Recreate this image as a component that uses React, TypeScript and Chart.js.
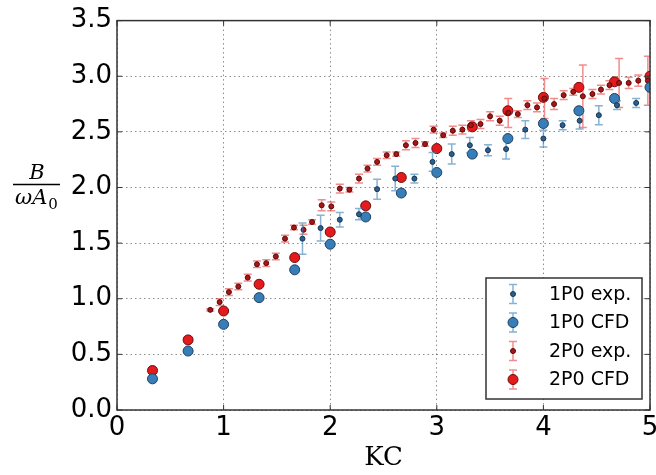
import React, { useEffect, useRef } from "react";
import { Chart, registerables } from "chart.js";

Chart.register(...registerables);

// ---- data ----
const cfdKC = [0.333, 0.667, 1.0, 1.333, 1.667, 2.0, 2.333, 2.667, 3.0, 3.333, 3.667, 4.0, 4.333, 4.667, 5.0];
const cfd1P0 = [0.28, 0.53, 0.77, 1.01, 1.26, 1.49, 1.735, 1.95, 2.135, 2.30, 2.44, 2.575, 2.69, 2.80, 2.90];
const cfd2P0 = [0.355, 0.63, 0.89, 1.13, 1.37, 1.60, 1.835, 2.09, 2.35, 2.545, 2.69, 2.81, 2.90, 2.95, 3.0];

const exp1KC = [1.74, 1.91, 2.09, 2.27, 2.44, 2.61, 2.79, 2.96, 3.14, 3.31, 3.48, 3.65, 3.83, 4.0, 4.18, 4.34, 4.52, 4.69, 4.87];
const exp1Val = [1.54, 1.635, 1.71, 1.76, 1.985, 2.08, 2.08, 2.23, 2.30, 2.38, 2.335, 2.345, 2.52, 2.44, 2.56, 2.60, 2.65, 2.74, 2.76];
const exp1Err = [0.14, 0.115, 0.065, 0.05, 0.09, 0.11, 0.04, 0.085, 0.09, 0.07, 0.05, 0.09, 0.08, 0.075, 0.04, 0.075, 0.085, 0.04, 0.04];

const exp2KC = [0.875, 0.963, 1.05, 1.138, 1.226, 1.313, 1.40, 1.49, 1.576, 1.66, 1.75, 1.83, 1.92, 2.01, 2.09, 2.18, 2.27, 2.35, 2.44, 2.53, 2.62, 2.71, 2.80, 2.89, 2.97, 3.06, 3.15, 3.24, 3.32, 3.41, 3.50, 3.59, 3.67, 3.76, 3.85, 3.94, 4.01, 4.10, 4.19, 4.28, 4.37, 4.46, 4.54, 4.62, 4.71, 4.80, 4.89, 4.98];
const exp2Val = [0.90, 0.97, 1.06, 1.11, 1.19, 1.31, 1.32, 1.38, 1.54, 1.64, 1.62, 1.69, 1.84, 1.83, 1.99, 1.98, 2.08, 2.17, 2.23, 2.29, 2.30, 2.38, 2.40, 2.39, 2.52, 2.47, 2.51, 2.52, 2.56, 2.57, 2.64, 2.60, 2.67, 2.66, 2.74, 2.72, 2.80, 2.75, 2.83, 2.86, 2.82, 2.84, 2.88, 2.92, 2.94, 2.94, 2.96, 2.96];
const exp2Err = [0.01, 0.03, 0.03, 0.03, 0.03, 0.03, 0.03, 0.03, 0.03, 0.02, 0.04, 0.02, 0.05, 0.04, 0.04, 0.02, 0.04, 0.03, 0.03, 0.03, 0.02, 0.04, 0.04, 0.02, 0.03, 0.02, 0.04, 0.04, 0.04, 0.04, 0.04, 0.04, 0.13, 0.03, 0.04, 0.04, 0.18, 0.05, 0.04, 0.03, 0.28, 0.04, 0.04, 0.04, 0.22, 0.05, 0.05, 0.22];

const xTicks = [0, 1, 2, 3, 4, 5];
const yTickStep = 0.5;
const legendLabels = ["1P0 exp.", "1P0 CFD", "2P0 exp.", "2P0 CFD"];

const BLUE = "#377eb8";
const RED = "#e41a1c";
const BLUE_BAR = "rgba(55,126,184,0.6)";
const RED_BAR = "rgba(228,26,28,0.5)";

const toPts = (xs: number[], ys: number[]) => xs.map((x, i) => ({ x, y: ys[i] }));

const errorBarPlugin = {
  id: "errorBars",
  beforeDatasetDraw(chart: any, args: any) {
    const ds = chart.data.datasets[args.index];
    if (!ds.errors) return;
    const ctx = chart.ctx;
    const ys = chart.scales.y;
    const ca = chart.chartArea;
    ctx.save();
    ctx.beginPath();
    ctx.rect(ca.left, ca.top, ca.right - ca.left, ca.bottom - ca.top);
    ctx.clip();
    ctx.strokeStyle = ds.errorColor;
    ctx.lineWidth = 1.5;
    args.meta.data.forEach((pt: any, i: number) => {
      const v = ds.data[i].y;
      const e = ds.errors[i];
      const t = ys.getPixelForValue(v + e);
      const b = ys.getPixelForValue(v - e);
      const x = pt.x;
      ctx.beginPath();
      ctx.moveTo(x, t);
      ctx.lineTo(x, b);
      ctx.moveTo(x - 4, t);
      ctx.lineTo(x + 4, t);
      ctx.moveTo(x - 4, b);
      ctx.lineTo(x + 4, b);
      ctx.stroke();
    });
    ctx.restore();
  },
};

const framePlugin = {
  id: "frame",
  afterDatasetsDraw(chart: any) {
    const ctx = chart.ctx;
    const ca = chart.chartArea;
    ctx.save();
    ctx.strokeStyle = "#333";
    ctx.lineWidth = 1.5;
    ctx.strokeRect(ca.left, ca.top, ca.right - ca.left, ca.bottom - ca.top);
    ctx.lineWidth = 1;
    ctx.beginPath();
    chart.scales.x.ticks.forEach((t: any) => {
      const px = chart.scales.x.getPixelForValue(t.value);
      ctx.moveTo(px, ca.bottom);
      ctx.lineTo(px, ca.bottom - 5);
      ctx.moveTo(px, ca.top);
      ctx.lineTo(px, ca.top + 5);
    });
    chart.scales.y.ticks.forEach((t: any) => {
      const py = chart.scales.y.getPixelForValue(t.value);
      ctx.moveTo(ca.left, py);
      ctx.lineTo(ca.left + 5, py);
      ctx.moveTo(ca.right, py);
      ctx.lineTo(ca.right - 5, py);
    });
    ctx.stroke();
    ctx.restore();
  },
};

const overlayPlugin = {
  id: "overlay",
  afterDraw(chart: any) {
    const ctx = chart.ctx;
    const ca = chart.chartArea;
    ctx.save();
    // legend box
    const bw = 156, bh = 121;
    const bx = ca.right - 8 - bw;
    const by = ca.bottom - 11 - bh;
    ctx.fillStyle = "#fff";
    ctx.fillRect(bx, by, bw, bh);
    ctx.strokeStyle = "#333";
    ctx.lineWidth = 1.5;
    ctx.strokeRect(bx, by, bw, bh);
    const mx = bx + 27;
    ctx.font = "19px 'DejaVu Sans'";
    ctx.textBaseline = "middle";
    ctx.textAlign = "left";
    chart.data.datasets.forEach((ds: any, i: number) => {
      const ry = by + 16 + i * 28.5;
      ctx.strokeStyle = ds.errorColor;
      ctx.lineWidth = 1.5;
      ctx.beginPath();
      ctx.moveTo(mx, ry - 9.5);
      ctx.lineTo(mx, ry + 9.5);
      ctx.moveTo(mx - 4, ry - 9.5);
      ctx.lineTo(mx + 4, ry - 9.5);
      ctx.moveTo(mx - 4, ry + 9.5);
      ctx.lineTo(mx + 4, ry + 9.5);
      ctx.stroke();
      ctx.beginPath();
      ctx.arc(mx, ry, ds.pointRadius, 0, Math.PI * 2);
      ctx.fillStyle = ds.pointBackgroundColor;
      ctx.fill();
      ctx.strokeStyle = ds.pointBorderColor;
      ctx.lineWidth = 1;
      ctx.stroke();
      ctx.fillStyle = "#000";
      ctx.fillText(ds.label, bx + 63, ry + 1);
    });
    // y axis label: B / (omega A_0)
    ctx.fillStyle = "#000";
    ctx.textBaseline = "alphabetic";
    ctx.font = "italic 21px 'DejaVu Serif'";
    ctx.textAlign = "center";
    ctx.fillText("B", 37, 179);
    ctx.strokeStyle = "#000";
    ctx.lineWidth = 1.5;
    ctx.beginPath();
    ctx.moveTo(13, 184.5);
    ctx.lineTo(60, 184.5);
    ctx.stroke();
    ctx.textAlign = "left";
    const w1 = ctx.measureText("ωA").width;
    ctx.font = "15px 'DejaVu Serif'";
    const w2 = ctx.measureText("0").width;
    const sx = 36.5 - (w1 + w2 + 1) / 2;
    ctx.font = "italic 21px 'DejaVu Serif'";
    ctx.fillText("ωA", sx, 204);
    ctx.font = "15px 'DejaVu Serif'";
    ctx.fillText("0", sx + w1 + 1, 209);
    ctx.restore();
  },
};

export default function App() {
  const ref = useRef<HTMLCanvasElement | null>(null);
  useEffect(() => {
    document.body.style.margin = "0";
    if (!ref.current) return;
    const tickFont = { family: "'DejaVu Sans'", size: 26 };
    const chart = new Chart(ref.current, {
      type: "scatter",
      data: {
        datasets: [
          {
            label: legendLabels[0],
            data: toPts(exp1KC, exp1Val),
            errors: exp1Err,
            errorColor: BLUE_BAR,
            pointRadius: 2.5,
            pointBackgroundColor: "#2a5f8f",
            pointBorderColor: "#1a3550",
            pointBorderWidth: 1,
            clip: 0,
          } as any,
          {
            label: legendLabels[1],
            data: toPts(cfdKC, cfd1P0),
            errorColor: BLUE_BAR,
            pointRadius: 5,
            pointBackgroundColor: BLUE,
            pointBorderColor: "#1f3f5f",
            pointBorderWidth: 1,
            clip: 0,
          } as any,
          {
            label: legendLabels[2],
            data: toPts(exp2KC, exp2Val),
            errors: exp2Err,
            errorColor: RED_BAR,
            pointRadius: 2.5,
            pointBackgroundColor: "#a81515",
            pointBorderColor: "#5a0a0a",
            pointBorderWidth: 1,
            clip: 0,
          } as any,
          {
            label: legendLabels[3],
            data: toPts(cfdKC, cfd2P0),
            errorColor: RED_BAR,
            pointRadius: 5,
            pointBackgroundColor: RED,
            pointBorderColor: "#6a0c0c",
            pointBorderWidth: 1,
            clip: 0,
          } as any,
        ],
      },
      options: {
        animation: false,
        responsive: false,
        devicePixelRatio: 1,
        layout: { padding: { top: 18, right: 6, left: 0, bottom: 0 } },
        plugins: { legend: { display: false }, tooltip: { enabled: false } },
        scales: {
          x: {
            type: "linear",
            min: xTicks[0],
            max: xTicks[xTicks.length - 1],
            afterBuildTicks: (s: any) => {
              s.ticks = xTicks.map((v) => ({ value: v }));
            },
            afterFit: (s: any) => {
              s.height = 65;
              s.paddingRight = 6;
              s.paddingLeft = 0;
            },
            ticks: { font: tickFont, color: "#000", padding: 3, maxRotation: 0, autoSkip: false, callback: (v: any) => String(v) },
            grid: { color: "rgba(0,0,0,0.45)", lineWidth: 1, drawTicks: false, tickLength: 0 },
            border: { display: false, dash: [1.5, 3] },
            title: { display: true, text: "KC", font: { family: "'DejaVu Serif'", size: 26 }, color: "#000", padding: { top: 0, bottom: 1 } },
          },
          y: {
            type: "linear",
            min: 0,
            max: 3.5,
            ticks: { stepSize: yTickStep, font: tickFont, color: "#000", padding: 5, callback: (v: any) => Number(v).toFixed(1) },
            afterFit: (s: any) => {
              s.width = 117;
            },
            grid: { color: "rgba(0,0,0,0.45)", lineWidth: 1, drawTicks: false, tickLength: 0 },
            border: { display: false, dash: [1.5, 3] },
          },
        },
      },
      plugins: [errorBarPlugin, framePlugin, overlayPlugin],
    } as any);
    return () => chart.destroy();
  }, []);
  return <canvas ref={ref} width={656} height={475} style={{ display: "block" }} />;
}
